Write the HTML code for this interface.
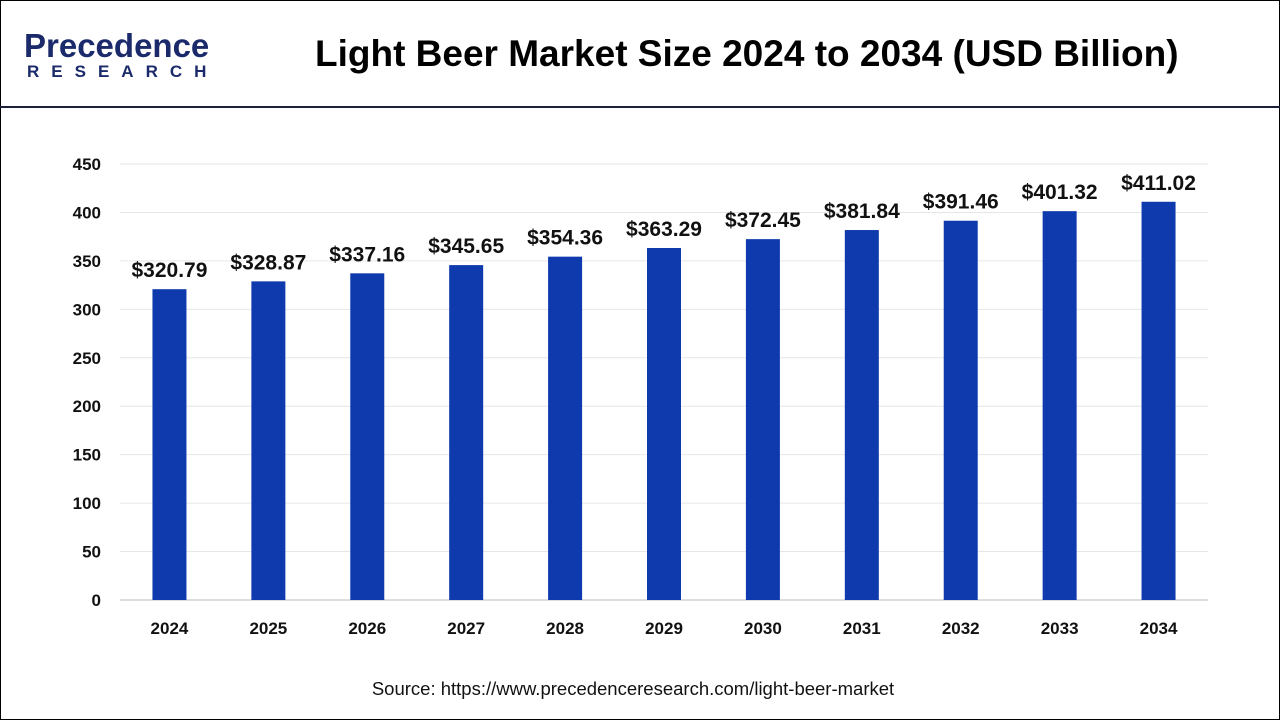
<!DOCTYPE html>
<html><head><meta charset="utf-8"><style>
body{margin:0;width:1280px;height:720px;overflow:hidden;background:#fff;font-family:"Liberation Sans",Arial,sans-serif;}
#frame{position:absolute;left:0;top:0;width:1278px;height:718px;border:1px solid #000;}
#hdr{position:absolute;left:0;top:106px;width:1280px;height:2px;background:#1a1f3a;}
#title{position:absolute;left:315px;top:33px;font-size:37px;font-weight:bold;color:#000;white-space:nowrap;}
#logo1{position:absolute;left:24px;top:27px;font-size:33px;color:#1b2a6b;font-weight:bold;}
#logo2{position:absolute;left:27px;top:62px;font-size:17px;color:#1b2a6b;font-weight:bold;letter-spacing:12px;}
#src{position:absolute;left:0;width:1266px;text-align:center;top:678px;font-size:18.5px;color:#111;}
</style></head><body>
<div id="frame"></div>
<div id="logo1">Precedence</div>
<div id="logo2">RESEARCH</div>
<div id="title">Light Beer Market Size 2024 to 2034 (USD Billion)</div>
<div id="hdr"></div>
<svg id="chart" width="1280" height="720" style="position:absolute;left:0;top:0"></svg>
<div id="src">Source: https://www.precedenceresearch.com/light-beer-market</div>
<script>
const categories=["2024","2025","2026","2027","2028","2029","2030","2031","2032","2033","2034"];
const values=[320.79,328.87,337.16,345.65,354.36,363.29,372.45,381.84,391.46,401.32,411.02];
const valueLabels=["$320.79","$328.87","$337.16","$345.65","$354.36","$363.29","$372.45","$381.84","$391.46","$401.32","$411.02"];
const yTicks=[0,50,100,150,200,250,300,350,400,450];
const NS="http://www.w3.org/2000/svg";
const svg=document.getElementById('chart');
const x0=120,x1=1208,y0=600,yTop=164,yMax=450;
const y=v=>y0-(v/yMax)*(y0-yTop);
const step=(x1-x0)/categories.length;
const xc=i=>x0+step*(i+0.5);
function mk(t,a){const e=document.createElementNS(NS,t);for(const k in a)e.setAttribute(k,a[k]);svg.appendChild(e);return e;}
yTicks.forEach(t=>{
  if(t>0){const g=mk('line',{x1:x0,x2:x1,y1:y(t),y2:y(t),stroke:'#e6e6e6','stroke-width':1});
  
  }
  const l=mk('text',{x:101,y:y(t)+6,'text-anchor':'end','font-size':17,'font-weight':'bold',fill:'#111','font-family':'Liberation Sans, sans-serif'});
  l.textContent=t;
  
  
});
const ax=mk('line',{x1:x0,x2:x1,y1:y0,y2:y0,stroke:'#bbb','stroke-width':1});


categories.forEach((c,i)=>{
  const b=mk('rect',{x:xc(i)-17,y:y(values[i]),width:34,height:y0-y(values[i]),fill:'#0f3aad'});
  
  
  const v=mk('text',{x:xc(i),y:y(values[i])-12,'text-anchor':'middle','font-size':21,'font-weight':'bold',fill:'#111','font-family':'Liberation Sans, sans-serif'});
  v.textContent=valueLabels[i];
  
  
  const t=mk('text',{x:xc(i),y:634,'text-anchor':'middle','font-size':17,'font-weight':'bold',fill:'#111','font-family':'Liberation Sans, sans-serif'});
  t.textContent=c;
  
  
});
</script>
</body></html>
